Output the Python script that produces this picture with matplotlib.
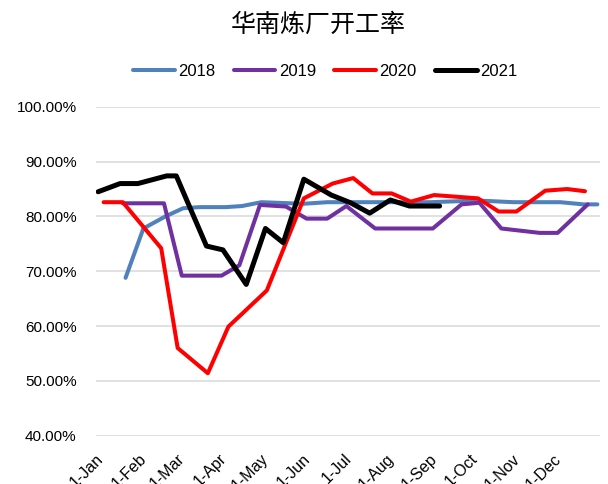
import matplotlib

matplotlib.use("Agg")
import matplotlib.pyplot as plt
import matplotlib.transforms as mtransforms
import pandas as pd

plt.rcParams["font.family"] = ["Liberation Sans", "DejaVu Sans"]

# 各年数据按"月-日"对齐到同一年的时间轴上
d2018 = ["01-21", "02-03", "02-19", "03-04", "03-16", "04-04", "04-16", "04-30",
         "05-21", "05-30", "06-17", "08-31", "10-05", "10-31", "12-04", "12-21", "12-31"]
v2018 = [68.8, 77.8, 80.0, 81.5, 81.7, 81.7, 81.9, 82.6,
         82.4, 82.3, 82.6, 82.6, 82.9, 82.6, 82.6, 82.2, 82.2]

d2019 = ["01-19", "02-18", "03-03", "04-01", "04-14", "04-29", "05-18", "06-02",
         "06-17", "07-01", "07-22", "09-02", "09-23", "10-06", "10-22", "11-05",
         "11-19", "12-02", "12-24"]
v2019 = [82.4, 82.4, 69.2, 69.2, 71.1, 82.1, 81.8, 79.6,
         79.6, 81.9, 77.8, 77.8, 82.2, 82.5, 77.8, 77.4,
         77.0, 77.0, 82.2]

d2020 = ["01-05", "01-19", "02-16", "02-28", "03-22", "04-06", "04-20", "05-04",
         "05-31", "06-21", "07-06", "07-20", "08-03", "08-17", "09-03", "10-05",
         "10-20", "11-02", "11-23", "12-09", "12-22"]
v2020 = [82.6, 82.6, 74.2, 56.0, 51.4, 59.9, 63.2, 66.5,
         83.3, 86.0, 87.0, 84.2, 84.2, 82.7, 83.9, 83.3,
         80.9, 80.9, 84.7, 85.0, 84.6]

d2021 = ["01-01", "01-17", "01-30", "02-20", "02-27", "03-21", "04-02", "04-19",
         "05-03", "05-16", "05-31", "06-20", "07-04", "07-18", "08-02", "08-16", "09-07"]
v2021 = [84.5, 86.0, 86.0, 87.4, 87.4, 74.6, 73.9, 67.6,
         77.8, 75.2, 86.8, 83.9, 82.5, 80.6, 83.0, 81.9, 81.9]

years = ["2018", "2019", "2020", "2021"]
colors = ["#4f81bd", "#7030a0", "#ff0000", "#000000"]
widths = [2.9, 2.9, 2.9, 3.6]
month_labels = ["1-Jan", "1-Feb", "1-Mar", "1-Apr", "1-May", "1-Jun",
                "1-Jul", "1-Aug", "1-Sep", "1-Oct", "1-Nov", "1-Dec"]
yticks = [40, 50, 60, 70, 80, 90, 100]


def to_date(md):
    return pd.to_datetime(["2021-" + s for s in md])


fig = plt.figure(figsize=(6.08, 4.84), dpi=100)
ax = fig.add_axes([0.158, 0.0998, 0.829, 0.6795])

series = [(d2018, v2018), (d2019, v2019), (d2020, v2020), (d2021, v2021)]
for (d, v), yr, c, lw in zip(series, years, colors, widths):
    ax.plot(to_date(d), v, color=c, lw=lw, label=yr, solid_capstyle="round")

ax.set_ylim(40, 100)
ax.set_yticks(yticks)
ax.set_yticklabels([f"{t:.2f}%" for t in yticks], fontsize=11)
ax.set_xlim(pd.Timestamp("2020-12-30 12:00"), pd.Timestamp("2022-01-02"))
ticks = pd.date_range("2021-01-01", periods=12, freq="MS")
ax.set_xticks(ticks)
ax.set_xticklabels(month_labels, rotation=45, ha="right", va="center",
                   rotation_mode="anchor", fontsize=11.5)
ax.tick_params(axis="x", length=0, pad=15)
ax.tick_params(axis="y", length=0, pad=14)
shift = mtransforms.ScaledTranslation(3 / 100, 0, fig.dpi_scale_trans)
for lab in ax.get_xticklabels():
    lab.set_transform(lab.get_transform() + shift)
ax.grid(axis="y", color="#d9d9d9", lw=1.1)
ax.set_axisbelow(True)
for s in ax.spines.values():
    s.set_visible(False)

fig.text(0.523, 0.949, "华南炼厂开工率", ha="center", va="center", fontsize=18,
         family=["Noto Sans CJK SC", "DejaVu Sans"])
fig.legend(loc="center", bbox_to_anchor=(0.535, 0.853), ncol=4, frameon=False,
           fontsize=12, handlelength=2.5, handletextpad=0.2, columnspacing=1.1)

fig.savefig("out.png", dpi=100)
